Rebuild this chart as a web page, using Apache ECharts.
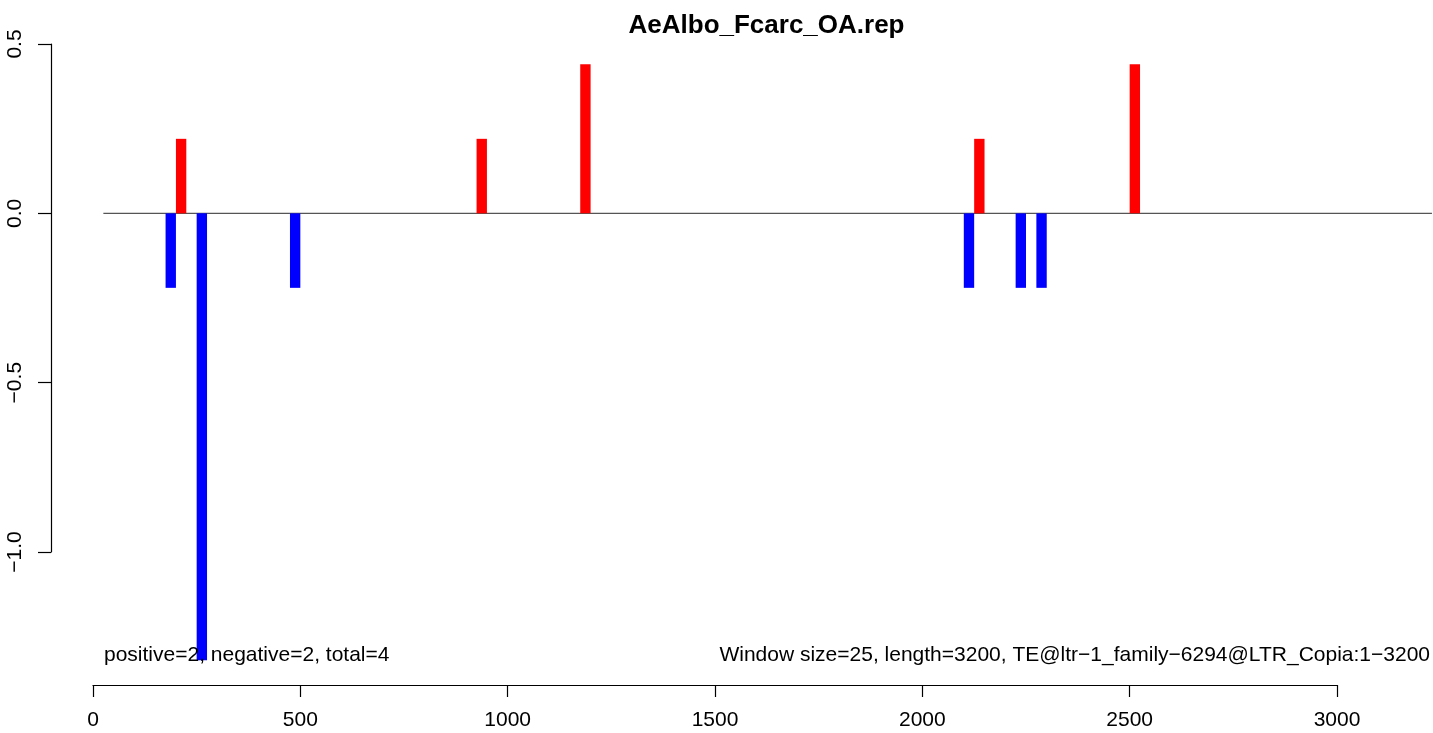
<!DOCTYPE html>
<html>
<head>
<meta charset="utf-8">
<script src="https://cdn.jsdelivr.net/npm/echarts@6/dist/echarts.min.js"></script>
<style>
html,body{margin:0;padding:0;background:#fff;}
#chart{width:1433px;height:733px;}
</style>
</head>
<body>
<div id="chart"></div>
<script>
// ---- data ----
const TITLE = 'AeAlbo_Fcarc_OA.rep';
const WINDOW = 25;
const posStarts = [200, 925, 1175, 2125, 2500];
const posValues = [0.22, 0.22, 0.44, 0.22, 0.44];
const negStarts = [175, 250, 475, 2100, 2225, 2275];
const negValues = [-0.22, -1.32, -0.22, -0.22, -0.22, -0.22];
const zeroLineX = [25, 3229];
const xTicks = [0, 500, 1000, 1500, 2000, 2500, 3000];
const yTicks = [-1.0, -0.5, 0.0, 0.5];
const leftNote = 'positive=2, negative=2, total=4';
const rightNote = 'Window size=25, length=3200, TE@ltr\u22121_family\u22126294@LTR_Copia:1\u22123200';

const FONT = '"Liberation Sans", Arial, Helvetica, sans-serif';

const chart = echarts.init(document.getElementById('chart'), null, {renderer: 'canvas'});

function barRender(color) {
  return function (params, api) {
    const s = api.value(0), v = api.value(1);
    const p0 = api.coord([s, 0]);
    const p1 = api.coord([s + WINDOW, v]);
    return {
      type: 'rect',
      shape: {
        x: p0[0], y: Math.min(p0[1], p1[1]),
        width: p1[0] - p0[0], height: Math.abs(p1[1] - p0[1])
      },
      style: {fill: color}
    };
  };
}

// x: 0 -> 93px, 3000 -> 1337px ; data grid extends to the right edge (1433px)
const PX_PER_UNIT = (1337 - 93) / 3000;
const dataXMax = 3000 + (1433 - 1337) / PX_PER_UNIT;

chart.setOption({
  animation: false,
  backgroundColor: '#ffffff',
  grid: [
    {left: 93, right: 0, top: 44, bottom: 181},
    {left: 93, right: 96, top: 600, bottom: 48},
    {left: 51, width: 1, top: 44, bottom: 181}
  ],
  xAxis: [
    {gridIndex: 0, type: 'value', min: 0, max: dataXMax, show: false},
    {gridIndex: 1, type: 'value', min: 0, max: 3000, interval: 500, position: 'bottom',
      axisLine: {show: true, onZero: false, lineStyle: {color: '#000', width: 1.2}},
      axisTick: {show: true, inside: false, length: 12, lineStyle: {color: '#000', width: 1.2}},
      axisLabel: {show: true, margin: 25, color: '#000', fontSize: 21, fontFamily: FONT,
        customValues: xTicks, formatter: function (v) { return String(v); }},
      splitLine: {show: false}},
    {gridIndex: 2, type: 'value', min: 0, max: 1, show: false}
  ],
  yAxis: [
    {gridIndex: 0, type: 'value', min: -1, max: 0.5, show: false},
    {gridIndex: 1, type: 'value', min: 0, max: 1, show: false},
    {gridIndex: 2, type: 'value', min: -1, max: 0.5, interval: 0.5, position: 'left',
      axisLine: {show: true, onZero: false, lineStyle: {color: '#000', width: 1.2}},
      axisTick: {show: true, inside: false, length: 13, lineStyle: {color: '#000', width: 1.2}},
      axisLabel: {show: true, rotate: 90, margin: 36, color: '#000', fontSize: 21, fontFamily: FONT,
        verticalAlign: 'middle', align: 'center',
        customValues: yTicks,
        formatter: function (v) { const s = Math.abs(v).toFixed(1); return v < 0 ? '\u2212' + s : s; }},
      splitLine: {show: false}}
  ],
  series: [
    {
      type: 'line', xAxisIndex: 0, yAxisIndex: 0,
      data: zeroLineX.map(x => [x, 0]),
      symbol: 'none', clip: false, silent: true,
      lineStyle: {color: '#555', width: 1.2}, z: 1
    },
    {
      type: 'custom', xAxisIndex: 0, yAxisIndex: 0, clip: false, z: 2,
      renderItem: barRender('#FF0000'),
      data: posStarts.map((s, i) => [s, posValues[i]])
    },
    {
      type: 'custom', xAxisIndex: 0, yAxisIndex: 0, clip: false, z: 2,
      renderItem: barRender('#0000FF'),
      data: negStarts.map((s, i) => [s, negValues[i]])
    }
  ],
  graphic: [
    {type: 'text', x: 766.5, y: 26, z: 10,
      style: {text: TITLE, font: 'bold 26px ' + FONT, fill: '#000', align: 'center', verticalAlign: 'middle'}},
    {type: 'text', x: 104, y: 655, z: 10,
      style: {text: leftNote, font: '21px ' + FONT, fill: '#000', align: 'left', verticalAlign: 'middle'}},
    {type: 'text', x: 1430, y: 655, z: 10,
      style: {text: rightNote, font: '21px ' + FONT, fill: '#000', align: 'right', verticalAlign: 'middle'}}
  ]
});
</script>
</body>
</html>
